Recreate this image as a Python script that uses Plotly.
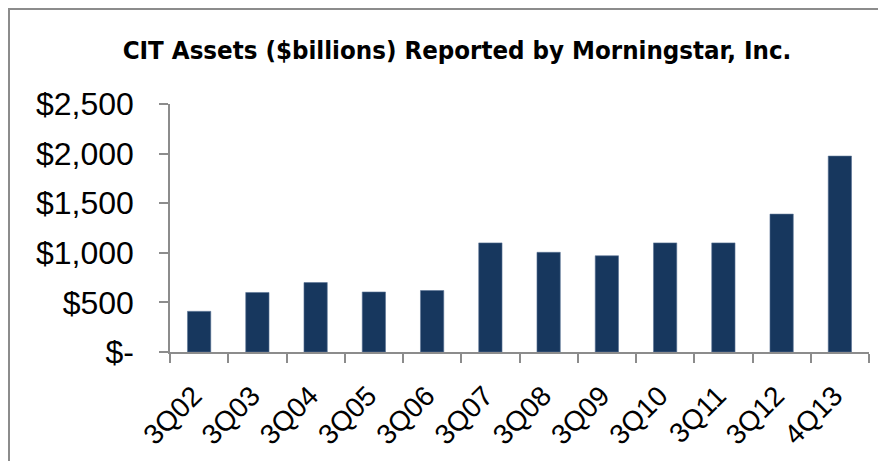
import plotly.graph_objects as go

categories = ["3Q02", "3Q03", "3Q04", "3Q05", "3Q06", "3Q07",
              "3Q08", "3Q09", "3Q10", "3Q11", "3Q12", "4Q13"]
assets = [410, 600, 700, 605, 620, 1100, 1005, 970, 1100, 1100, 1390, 1975]
y_tickvals = [0, 500, 1000, 1500, 2000, 2500]
y_ticktext = ["$-", "$500", "$1,000", "$1,500", "$2,000", "$2,500"]
title_text = "CIT Assets ($billions) Reported by Morningstar, Inc."

# page body has an 8px default margin, so the figure is drawn 8px in from the window edge
OFF = 8
W, H = 886 - OFF, 461 - OFF
L, R, T, B = 170 - OFF, 17, 104 - OFF, 109
pw, ph = W - L - R, H - T - B

def px(x):
    return (x - L) / pw

def py(y):
    return (H - B - y) / ph

fig = go.Figure(go.Bar(
    x=categories, y=assets,
    marker=dict(color="#17375E", line=dict(color="#5A7396", width=0.6)),
    width=0.4,
))

fig.update_layout(
    width=W, height=H,
    margin=dict(l=L, r=R, t=T, b=B, pad=0, autoexpand=False),
    paper_bgcolor="white", plot_bgcolor="white",
    showlegend=False,
    font=dict(family="Liberation Sans, Arial, sans-serif", color="black"),
    title=dict(text="<b>" + title_text + "</b>", x=(457 - OFF) / W, xanchor="center",
               xref="container", yref="container",
               y=1 - (50 - OFF) / H, yanchor="middle", automargin=False,
               font=dict(family="DejaVu Sans Condensed, sans-serif",
                         size=25.6, color="black")),
    xaxis=dict(
        type="category", automargin=False,
        tickvals=categories, ticktext=[c + "\u00a0" for c in categories],
        showline=True, linecolor="#8C8C8C", linewidth=1.5,
        ticks="outside", tickson="boundaries", ticklen=9, tickcolor="#8C8C8C", tickwidth=1.5,
        tickangle=-45, tickfont=dict(size=28, color="black"), ticklabelstandoff=9,
        showgrid=False, zeroline=False,
    ),
    yaxis=dict(
        range=[0, 2500], tickvals=y_tickvals, ticktext=y_ticktext, automargin=False,
        showline=True, linecolor="#8C8C8C", linewidth=1.5,
        ticks="outside", ticklen=9, tickcolor="#8C8C8C", tickwidth=1.5,
        tickfont=dict(size=32, color="black"), ticklabelstandoff=19,
        showgrid=False, zeroline=False,
    ),
    shapes=[dict(type="rect", xref="paper", yref="paper",
                 x0=px(1), x1=px(W + 10), y0=py(H + 10), y1=py(1),
                 line=dict(color="#8C8C8C", width=2), fillcolor="rgba(0,0,0,0)",
                 layer="below")],
)

fig.write_html("out.html")
